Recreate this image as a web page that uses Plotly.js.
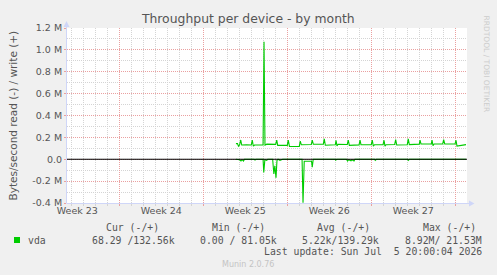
<!DOCTYPE html>
<html><head><meta charset="utf-8">
<script src="https://cdn.plot.ly/plotly-3.0.1.min.js"></script>
<style>html,body{margin:0;padding:0;background:#f0f0f0;}#chart{width:497px;height:275px;}</style>
</head><body><div id="chart"></div><script>
// x values: days since Sun May 31 2026 00:00
const weekLabels = ['Week 23','Week 24','Week 25','Week 26','Week 27'];
const weekCenters = [3.5, 10.5, 17.5, 24.5, 31.5];
const weekStarts = [7, 14, 21, 28, 35];
const yTickVals = [-400000,-200000,0,200000,400000,600000,800000,1000000,1200000];
const yTickText = ['-0.4 M','-0.2 M','0.0','0.2 M','0.4 M','0.6 M','0.8 M','1.0 M','1.2 M'];

// write (+), kB/s
const writeDays = [16.72,16.85,16.93,17.02,17.12,17.20,17.60,18.00,18.08,18.17,18.27,18.70,18.98,19.06,19.14,19.30,20.03,20.12,20.20,21.00,21.08,21.18,22.00,22.08,22.17,23.00,23.08,23.17,24.00,24.08,24.17,25.00,25.06,25.14,25.23,26.00,26.08,26.17,26.50,26.98,27.06,27.14,28.00,28.08,28.17,28.27,28.98,29.06,29.14,29.23,29.95,30.03,30.12,31.00,31.08,31.17,32.00,32.06,32.14,33.00,33.06,33.14,33.23,33.95,34.03,34.12,34.98,35.06,35.14,35.40,35.60,35.89];
const writeKBps = [143,143,119,130,176,130,133,130,174,119,130,132,130,1075,130,138,136,174,127,127,174,117,117,165,132,135,174,137,137,186,128,132,174,122,137,135,174,127,130,131,174,133,133,174,120,133,133,174,120,133,135,180,130,133,186,134,138,174,140,140,174,124,140,140,180,140,140,174,120,124,130,134];

// read (-), kB/s
const readDays = [16.72,17.02,17.14,17.23,17.35,17.43,18.23,18.31,18.39,18.98,19.04,19.13,19.28,19.37,19.78,19.88,19.96,20.06,20.14,20.23,20.39,20.53,20.62,22.23,22.31,22.41,23.02,23.08,23.16,24.98,25.03,25.12,25.39,25.43,25.52,25.93,26.02,26.12,26.31,26.39,26.56,26.64,28.27,28.33,28.42,31.02,31.08,31.17,35.89];
const readKBps = [0,5,16,4,16,0,0,7,0,0,120,5,10,0,0,135,60,170,10,0,10,7,0,0,398,18,18,73,0,0,8,0,0,6,0,0,16,4,14,4,16,0,0,10,0,0,10,0,0];

const legendHeaders = ['Cur (-/+)','Min (-/+)','Avg (-/+)','Max (-/+)'];
const legendValues = ['68.29 /132.56k','0.00 / 81.05k','5.22k/139.29k','8.92M/ 21.53M'];
const seriesName = 'vda';
const lastUpdate = 'Last update: Sun Jul \u00a05 20:00:04 2026';

const GREEN = '#00cc00';
const L = 67, T = 28, W = 400, H = 175;
const px = x => (x - L) / W;
const py = y => (T + H - y) / H;
const SANS = 'DejaVu Sans, Verdana, sans-serif';
const MONO = 'DejaVu Sans Mono, monospace';
const TXT = '#555555';
const MINOR = '#d4d4d4';
const MAJOR = '#eaa0a0';
const AXIS = '#cfd6f8';
const XR = [2.642, 35.975];

const traces = [
  {type:'scatter', mode:'lines', name:seriesName, x:writeDays, y:writeKBps.map(v => v*1000),
   line:{color:GREEN, width:1.1}, xaxis:'x', yaxis:'y', hoverinfo:'skip'},
  {type:'scatter', mode:'lines', name:seriesName, x:readDays, y:readKBps.map(v => -v*1000),
   line:{color:GREEN, width:1.1}, xaxis:'x2', yaxis:'y', hoverinfo:'skip'}
];

const headerRight = [160, 265.7, 371, 476.7];
const valueRight = [175.7, 278.3, 380, 483.3];
const ann = [];
ann.push({text:'Bytes/second read (-) / write (+)', x:px(12), y:py(115.5), xref:'paper', yref:'paper',
  textangle:-90, showarrow:false, xanchor:'center', yanchor:'middle', borderpad:0,
  font:{family:SANS, size:10.5, color:TXT}});
ann.push({text:'RRDTOOL / TOBI OETIKER', x:px(486), y:py(63.5), xref:'paper', yref:'paper',
  textangle:90, showarrow:false, xanchor:'center', yanchor:'middle', borderpad:0,
  font:{family:SANS, size:7.5, color:'#cccccc'}});
legendHeaders.forEach((h,i) => ann.push({text:h, x:px(headerRight[i]), y:py(227.3), xref:'paper', yref:'paper',
  showarrow:false, xanchor:'right', yanchor:'middle', borderpad:0, font:{family:MONO, size:9.8, color:TXT}}));
legendValues.forEach((h,i) => ann.push({text:h, x:px(valueRight[i]), y:py(240), xref:'paper', yref:'paper',
  showarrow:false, xanchor:'right', yanchor:'middle', borderpad:0, font:{family:MONO, size:9.8, color:TXT}}));
ann.push({text:seriesName, x:px(26.7), y:py(240), xref:'paper', yref:'paper',
  showarrow:false, xanchor:'left', yanchor:'middle', borderpad:0, font:{family:MONO, size:9.8, color:TXT}});
ann.push({text:lastUpdate, x:px(483.3), y:py(251.7), xref:'paper', yref:'paper',
  showarrow:false, xanchor:'right', yanchor:'middle', borderpad:0, font:{family:MONO, size:9.8, color:TXT}});
ann.push({text:'Munin 2.0.76', x:px(248), y:py(264), xref:'paper', yref:'paper',
  showarrow:false, xanchor:'center', yanchor:'middle', borderpad:0, font:{family:SANS, size:8, color:'#c4c4c4'}});

const shapes = [
  {type:'line', xref:'paper', yref:'y', x0:0, x1:1, y0:0, y1:0, layer:'above', line:{color:'#000000', width:1}},
  {type:'line', xref:'paper', yref:'paper', x0:px(66.5), x1:px(66.5), y0:py(203), y1:py(24), layer:'above', line:{color:AXIS, width:1}},
  {type:'line', xref:'paper', yref:'paper', x0:px(66.5), x1:px(470), y0:py(203.5), y1:py(203.5), layer:'above', line:{color:AXIS, width:1}},
  {type:'path', xref:'paper', yref:'paper', layer:'above', line:{width:0}, fillcolor:AXIS,
   path:`M ${px(63.5)} ${py(27)} L ${px(69.5)} ${py(27)} L ${px(66.5)} ${py(21)} Z`},
  {type:'path', xref:'paper', yref:'paper', layer:'above', line:{width:0}, fillcolor:AXIS,
   path:`M ${px(469)} ${py(200.5)} L ${px(469)} ${py(206.5)} L ${px(474.5)} ${py(203.5)} Z`},
  {type:'rect', xref:'paper', yref:'paper', x0:px(14), x1:px(20), y0:py(243), y1:py(237), layer:'above', line:{width:0}, fillcolor:GREEN}
];

const layout = {
  width:497, height:275, autosize:false,
  margin:{l:L, r:497-L-W, t:T, b:275-T-H, pad:0},
  paper_bgcolor:'#f0f0f0', plot_bgcolor:'#ffffff', showlegend:false,
  title:{text:'Throughput per device - by month', font:{family:SANS, size:12.4, color:TXT},
    x:248.3/497, xanchor:'center', xref:'container', y:1-19/275, yanchor:'middle', yref:'container'},
  xaxis:{range:XR, tickmode:'array', tickvals:weekCenters, ticktext:weekLabels, showgrid:false, zeroline:false,
    ticks:'', showline:false, tickfont:{family:SANS, size:9.5, color:TXT}, fixedrange:true,
    minor:{tickmode:'linear', tick0:0, dtick:1, showgrid:true, gridcolor:MINOR, griddash:'1px,1px', gridwidth:1,
      ticks:'outside', ticklen:2, tickcolor:MINOR}},
  xaxis2:{range:XR, overlaying:'x', anchor:'y', side:'bottom', tickmode:'array', tickvals:weekStarts,
    showticklabels:false, showgrid:true, gridcolor:MAJOR, griddash:'1px,1px', gridwidth:1,
    ticks:'outside', ticklen:2, tickcolor:MAJOR, zeroline:false, showline:false, fixedrange:true},
  yaxis:{range:[-400000,1200000], tickmode:'array', tickvals:yTickVals, ticktext:yTickText,
    showgrid:true, gridcolor:MAJOR, griddash:'1px,1px', gridwidth:1, zeroline:false, showline:false,
    ticks:'outside', ticklen:2, tickcolor:MAJOR, tickfont:{family:SANS, size:9.5, color:TXT}, fixedrange:true,
    minor:{tickmode:'linear', tick0:0, dtick:100000, showgrid:true, gridcolor:MINOR, griddash:'1px,1px', gridwidth:1}},
  annotations:ann, shapes:shapes
};

Plotly.newPlot('chart', traces, layout, {displayModeBar:false, staticPlot:true});
</script></body></html>
